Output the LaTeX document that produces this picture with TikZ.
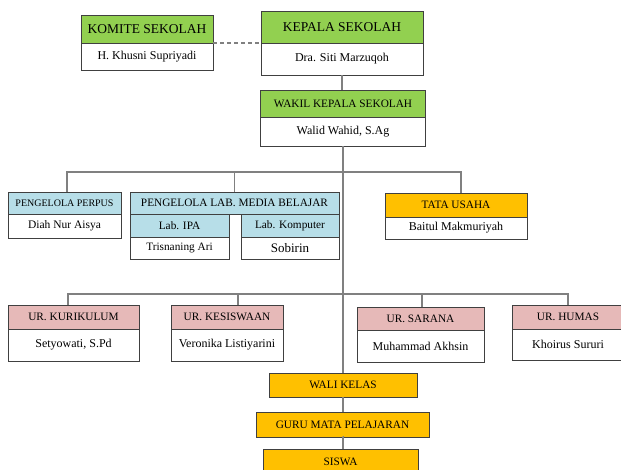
\documentclass[tikz,border=0pt]{standalone}
\usepackage{fontspec}
\setmainfont{Liberation Serif}
\usetikzlibrary{positioning}
\definecolor{hijau}{HTML}{92D050}
\definecolor{biru}{HTML}{B7DEE8}
\definecolor{merah}{HTML}{E6B9B8}
\definecolor{emas}{HTML}{FFC000}

\begin{document}
\begin{tikzpicture}[x=1pt,y=-1pt,node distance=0pt,
      box/.style={draw=black!75,line width=0.8pt,rectangle,inner sep=0pt,outer sep=0pt,
        fill=white,font=\fontsize{12}{14}\selectfont},
      big/.style={box,fill=hijau,font=\fontsize{13.5}{15}\selectfont},
      head/.style={box,font=\fontsize{11.3}{13}\selectfont},
      link/.style={draw=black!50,line width=1.2pt}]
      \clip (0,0) rectangle (621,469);
      \fill[white] (0,0) rectangle (621,469);
      % pimpinan
      \node[big,minimum width=132,minimum height=28] (komite) at (147,29) {KOMITE SEKOLAH};
      \node[box,minimum width=132,minimum height=27,below=of komite] (komitename) {H. Khusni Supriyadi};
      \node[big,minimum width=162,minimum height=32] (kepala) at (342,27) {KEPALA SEKOLAH};
      \node[box,minimum width=162,minimum height=32,below=of kepala] (kepalaname) {Dra. Siti Marzuqoh};
      \node[head,fill=hijau,minimum width=165,minimum height=27] (wakil) at (343,103.5) {WAKIL KEPALA SEKOLAH};
      \node[box,minimum width=165,minimum height=29,below=of wakil] (wakilname) {Walid Wahid, S.Ag};
      % pengelola
      \node[head,fill=biru,minimum width=113,minimum height=22,font=\fontsize{10}{12}\selectfont]
        (perpus) at (64.5,203) {PENGELOLA PERPUS};
      \node[box,minimum width=113,minimum height=24,below=of perpus,font=\fontsize{11.5}{13}\selectfont]
        (perpusname) {Diah Nur Aisya};
      \node[head,fill=biru,minimum width=209,minimum height=22] (lab) at (234.5,203) {PENGELOLA LAB. MEDIA BELAJAR};
      \node[head,fill=biru,minimum width=99,minimum height=23,anchor=north west] (ipa) at (lab.south west) {Lab. IPA};
      \node[box,minimum width=99,minimum height=22,below=of ipa,font=\fontsize{11.3}{13}\selectfont]
        (ipaname) {Trisnaning Ari};
      \node[head,fill=biru,minimum width=98,minimum height=23,anchor=north east] (komputer) at (lab.south east) {Lab. Komputer};
      \node[box,minimum width=98,minimum height=22,below=of komputer,font=\fontsize{13}{15}\selectfont]
        (komputername) {Sobirin};
      \node[head,fill=emas,minimum width=142,minimum height=24] (tata) at (456,205) {TATA USAHA};
      \node[box,minimum width=142,minimum height=22,below=of tata] (tataname) {Baitul Makmuriyah};
      % urusan
      \node[head,fill=merah,minimum width=131,minimum height=24] (kurikulum) at (73.5,317) {UR. KURIKULUM};
      \node[box,minimum width=131,minimum height=32,below=of kurikulum] (kurikulumname) {Setyowati, S.Pd};
      \node[head,fill=merah,minimum width=112,minimum height=24] (kesiswaan) at (227,317) {UR. KESISWAAN};
      \node[box,minimum width=112,minimum height=32,below=of kesiswaan] (kesiswaanname) {Veronika Listiyarini};
      \node[head,fill=merah,minimum width=127,minimum height=23] (sarana) at (420.5,318.5) {UR. SARANA};
      \node[box,minimum width=127,minimum height=32,below=of sarana] (sarananame) {Muhammad Akhsin};
      \node[head,fill=merah,minimum width=112,minimum height=24] (humas) at (568,317) {UR. HUMAS};
      \node[box,minimum width=112,minimum height=31,below=of humas] (humasname) {Khoirus Sururi};
      % bawah
      \node[head,fill=emas,minimum width=148,minimum height=24] (wali) at (343,385) {WALI KELAS};
      \node[head,fill=emas,minimum width=173,minimum height=25] (guru) at (342.5,424.5) {GURU MATA PELAJARAN};
      \node[head,fill=emas,minimum width=155,minimum height=25] (siswa) at (340.5,461.5) {SISWA};
      \coordinate (bus1) at (343,172);
      \coordinate (bus2) at (343,294);

      \begin{scope}[on background layer/.try]
      \draw[black!50,line width=1.2pt,dash pattern=on 4pt off 3pt] (komite.south east) -- (kepala.south west);
      \draw[link] (kepalaname.south) -- (kepalaname.south |- wakil.north);
      \draw[link] (wakilname.south) -- (wali.north);
      \draw[link] (wali.south) -- (wali.south |- guru.north);
      \draw[link] (guru.south) -- (guru.south -| wali.south) -- (wali.south |- siswa.north);
      \draw[link] ([xshift=2.5]perpus.north) |- (bus1) -| ([xshift=5]tata.north);
      \draw[link] (lab.north) -- (lab.north |- bus1);
      \draw[link] ([xshift=-5.5]kurikulum.north) |- (bus2) -| (humas.north);
      \draw[link] ([xshift=11]kesiswaan.north) -- ([xshift=11]kesiswaan.north |- bus2);
      \draw[link] ([xshift=1.5]sarana.north) -- ([xshift=1.5]sarana.north |- bus2);
      \end{scope}
    \end{tikzpicture}
\end{document}
